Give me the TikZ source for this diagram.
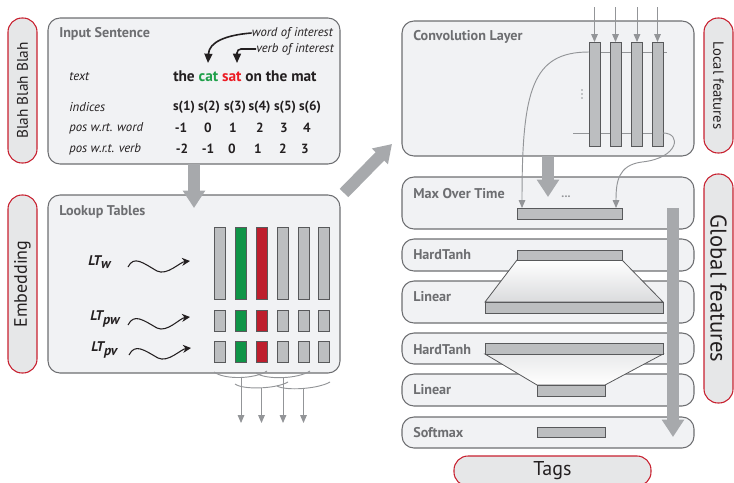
\documentclass[tikz,border=0pt]{standalone}
\usepackage{fontspec}
\setmainfont{PT Sans}
\usetikzlibrary{arrows.meta}
\definecolor{panelfill}{HTML}{F1F2F4}
\definecolor{panelline}{HTML}{6D6E71}
\definecolor{pillfill}{HTML}{E6E7E8}
\definecolor{pillred}{HTML}{C8202F}
\definecolor{labgray}{HTML}{6D6E71}
\definecolor{bargray}{HTML}{BCBEC0}
\definecolor{barline}{HTML}{58595B}
\definecolor{biggray}{HTML}{A7A9AC}
\definecolor{thingray}{HTML}{939598}
\definecolor{wgreen}{HTML}{0F9447}
\definecolor{wred}{HTML}{BE1E2D}
\definecolor{catgreen}{HTML}{1FA04A}
\definecolor{satred}{HTML}{EC1C24}
\definecolor{traplow}{HTML}{DADBDD}
\definecolor{inkblack}{HTML}{231F20}
\newcommand\bx[6]{\node[#6, anchor=north west, minimum width={(#4-#2)*0.75pt}, minimum height={(#5-#3)*0.75pt}] (#1) at (#2,#3) {};}
\tikzset{
  panel/.style={draw=panelline, fill=panelfill, line width=0.8pt, rounded corners=9pt, inner sep=0pt, outer sep=0pt},
  pill/.style={draw=pillred, fill=pillfill, line width=0.8pt, rounded corners=10.5pt, inner sep=0pt, outer sep=0pt, text=inkblack},
  bar/.style={draw=barline, fill=bargray, line width=0.7pt, inner sep=0pt, outer sep=0pt},
  gbar/.style={bar, fill=wgreen},
  rbar/.style={bar, fill=wred},
  lab/.style={anchor=west, inner sep=0pt, text=labgray, font=\fontsize{10.6}{12}\selectfont\bfseries},
  rowlab/.style={anchor=west, inner sep=0pt, text=inkblack, font=\fontsize{9.6}{11}\selectfont\itshape},
  num/.style={inner sep=0pt, text=inkblack, font=\fontsize{10}{12}\selectfont\bfseries},
  bigarrow/.style={draw=biggray, line width=9pt, -{Triangle[width=16pt,length=13pt]}},
  thin/.style={draw=thingray, line width=0.7pt},
  thinarrow/.style={thin, -{Triangle[width=5pt,length=6pt]}},
  squig/.style={draw=inkblack, line width=0.8pt, -{Stealth[width=6pt,length=6pt]}},
  pointer/.style={draw=inkblack, line width=1.2pt, -{Triangle[width=6pt,length=7pt]}},
  trap/.style={draw=barline, line width=0.6pt},
}
\begin{document}
\begin{tikzpicture}[x=0.75pt,y=-0.75pt]
\useasboundingbox (0,0) rectangle (734,482);

% ---------- side pills ----------
\node[pill, rotate=90, minimum width={145*0.75pt}, minimum height={29*0.75pt}, font=\fontsize{11.5}{13}\selectfont] (blah) at (22.5,90.5) {Blah Blah Blah};
\node[pill, rotate=90, minimum width={178*0.75pt}, minimum height={29*0.75pt}, font=\fontsize{13.5}{15}\selectfont] (emb) at (22.5,284) {Embedding};
\node[pill, rotate=-90, minimum width={135*0.75pt}, minimum height={29*0.75pt}, font=\fontsize{11}{12}\selectfont] (loc) at (718.5,85.5) {Local features};
\node[pill, rotate=-90, minimum width={229*0.75pt}, minimum height={29*0.75pt}, font=\fontsize{17}{19}\selectfont] (glob) at (718.5,288.5) {Global features};
\node[pill, minimum width={197*0.75pt}, minimum height={30*0.75pt}, font=\fontsize{15}{17}\selectfont] (tags) at (552.5,471) {Tags};

% ---------- left panels ----------
\bx{inp}{48}{18}{340}{164}{panel}
\bx{lt}{48}{195}{340}{373}{panel}
\node[lab] (inplab) at (59,34) {Input Sentence};
\node[lab] (ltlab) at (59,212) {Lookup Tables};

\node[anchor=east, inner sep=0pt, text=inkblack, font=\fontsize{9.5}{11}\selectfont\itshape] (woi) at (333,33) {word of interest};
\node[anchor=east, inner sep=0pt, text=inkblack, font=\fontsize{9.5}{11}\selectfont\itshape] (voi) at (334,49) {verb of interest};

\node[rowlab] (rtext) at (69,77) {text};
\node[rowlab] (rind) at (69,107) {indices};
\node[rowlab] (rpw) at (69,128) {pos w.rt. word};
\node[rowlab] (rpv) at (69,149) {pos w.r.t. verb};

\node[anchor=west, inner sep=0pt, text=inkblack, font=\fontsize{11.5}{13}\selectfont\bfseries] (sent) at (173,76) {the \textcolor{catgreen}{cat} \textcolor{satred}{sat} on the mat};
\coordinate (catTop) at (208,63);
\coordinate (satTop) at (237,63);
\draw[pointer] (woi.west) .. controls (226,35) and (209,42) .. (catTop);
\draw[pointer, rounded corners=3pt] (voi.west) -| (satTop);

\foreach \x/\i in {184/1,209/2,235/3,259.5/4,285/5,310/6}
  \node[num] (s\i) at (\x,107) {s(\i)};
\foreach \x/\v [count=\i] in {181/-1,208/0,233/1,260/2,284/3,307/4}
  \node[num] (pw\i) at (\x,128) {\v};
\foreach \x/\v [count=\i] in {182/-2,208/-1,232/0,258/1,283/2,305/3}
  \node[num] (pv\i) at (\x,149) {\v};

% lookup table columns
\foreach \x/\s [count=\i] in {214/bar,235/gbar,256/rbar,277/bar,298/bar,318/bar}{
  \bx{cw\i}{\x}{227}{\x+11}{299}{\s}
  \bx{cpw\i}{\x}{310}{\x+11}{331}{\s}
  \bx{cpv\i}{\x}{341}{\x+11}{362}{\s}
}
\node[inner sep=0pt, anchor=west, text=inkblack, font=\fontsize{10.5}{12}\selectfont\bfseries\itshape] (ltw) at (88,262) {LT\raisebox{-0.45ex}{w}};
\node[inner sep=0pt, anchor=west, text=inkblack, font=\fontsize{10.5}{12}\selectfont\bfseries\itshape] (ltpw) at (90,319) {LT\raisebox{-0.45ex}{pw}};
\node[inner sep=0pt, anchor=west, text=inkblack, font=\fontsize{10.5}{12}\selectfont\bfseries\itshape] (ltpv) at (91,350) {LT\raisebox{-0.45ex}{pv}};

\coordinate (qa1) at (128,267); \coordinate (qa2) at (190,261);
\coordinate (qb1) at (128,325); \coordinate (qb2) at (190,317);
\coordinate (qc1) at (129,355); \coordinate (qc2) at (191,348);
\draw[squig] (qa1) .. controls +(6,-12) and +(-14,-8) .. ++(29,4) .. controls +(10,5) and +(-10,1) .. (qa2);
\draw[squig] (qb1) .. controls +(6,-12) and +(-14,-8) .. ++(29,3) .. controls +(10,5) and +(-10,1) .. (qb2);
\draw[squig] (qc1) .. controls +(6,-12) and +(-14,-8) .. ++(29,3) .. controls +(10,5) and +(-10,1) .. (qc2);

% window curves under lookup tables
\draw[thin] (cpv1.south west |- 0,372) .. controls (225,380) and (255,379) .. (267,371);
\draw[thin] (256,373) .. controls (266,380) and (298,379) .. (310,371);
\draw[thin] (235,384) .. controls (243,390) and (276,389) .. (288,382);
\draw[thin] (277,386) .. controls (286,391) and (318,389) .. (330,382);
\foreach \x/\y [count=\i] in {241/378,261.5/388,283/378,303.5/389}{
  \coordinate (wt\i) at (\x,\y); \coordinate (wb\i) at (\x,423);
  \draw[thinarrow] (wt\i) -- (wb\i);
}

% ---------- right panels ----------
\bx{conv}{402}{21}{694}{156}{panel}
\bx{mot}{402}{177}{694}{229}{panel}
\bx{ht1}{402}{239}{694}{271}{panel}
\bx{lin1}{402}{281}{694}{323}{panel}
\bx{ht2}{402}{333}{694}{364}{panel}
\bx{lin2}{402}{374}{694}{406}{panel}
\bx{soft}{402}{417}{694}{448}{panel}
\node[lab] (convlab) at (413,37) {Convolution Layer};
\node[lab] (motlab) at (413,194) {Max Over Time};
\node[lab] (ht1lab) at (413,255) {HardTanh};
\node[lab] (lin1lab) at (413,297) {Linear};
\node[lab] (ht2lab) at (413,350) {HardTanh};
\node[lab] (lin2lab) at (413,390) {Linear};
\node[lab] (softlab) at (413,433) {Softmax};

% convolution internals
\draw[thin] (589,52) -- (667,52);
\draw[thin] (573,133) -- (663,133);
\foreach \x [count=\i] in {589,610,631.5,652}{
  \bx{cc\i}{\x}{42}{\x+11}{146}{bar}
  \coordinate (ca\i) at (\x+5.5,7);
  \draw[thinarrow] (ca\i) -- (cc\i.north);
}
\foreach \y in {90,94,98} \fill[thingray] (582,\y) circle (0.9);

% max over time etc.
\bx{motbar}{517}{208}{622}{219}{bar}
\node[inner sep=0pt, text=thingray, font=\fontsize{9}{10}\selectfont\bfseries] (motdots) at (566,197) {...};
\draw[thinarrow] (cc1.west |- 0,52) .. controls (532,52) and (522,90) .. (motbar.north west -| 522,0);
\draw[thinarrow] (663,133) .. controls (682,133) and (679,158) .. (642,162) .. controls (618,165) and (616,182) .. (motbar.north west -| 616,0);

\draw[trap, top color=white, bottom color=traplow] (517,260) -- (622,260) -- (663,302) -- (485,302) -- cycle;
\draw[trap, top color=traplow!60, bottom color=white] (485,354) -- (663,354) -- (605,385) -- (537,385) -- cycle;
\bx{ht1bar}{517}{250}{622}{260}{bar}
\bx{lin1bar}{485}{302}{663}{313}{bar}
\bx{ht2bar}{485}{343}{663}{354}{bar}
\bx{lin2bar}{537}{385}{605}{396}{bar}
\bx{softbar}{537}{427}{605}{437}{bar}

% ---------- big arrows ----------
\draw[bigarrow] (inp.south) -- ([yshift=-9.75pt]lt.north);
\coordinate (dg1) at (344,193); \coordinate (dg2) at (392,144);
\draw[bigarrow] (dg1) -- (dg2);
\draw[bigarrow] (conv.south) -- ([yshift=-15pt]mot.north);
\coordinate (rv1) at (673,208); \coordinate (rv2) at (673,437);
\draw[bigarrow] (rv1) -- (rv2);
\end{tikzpicture}
\end{document}
